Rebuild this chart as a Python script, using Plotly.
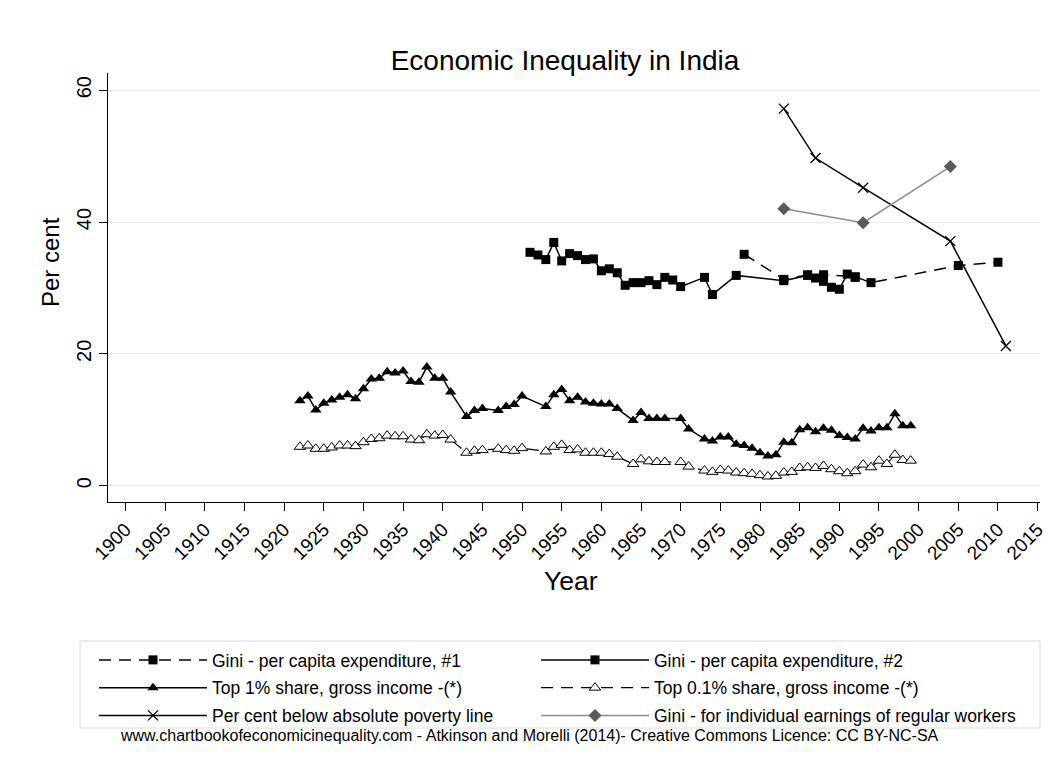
import plotly.graph_objects as go

# ---------------- data ----------------
gini1_years = [1978, 1983, 1986, 1988, 1992, 1994, 2005, 2010]
gini1_vals = [35.1, 31.3, 32.0, 32.0, 31.7, 30.8, 33.4, 33.9]

gini2_years = [1951, 1952, 1953, 1954, 1955, 1956, 1957, 1958, 1959, 1960, 1961, 1962,
               1963, 1964, 1965, 1966, 1967, 1968, 1969, 1970, 1973, 1974, 1977,
               1983, 1986, 1987, 1988, 1989, 1990, 1991, 1992]
gini2_vals = [35.4, 35.0, 34.3, 36.9, 34.1, 35.2, 34.9, 34.3, 34.4, 32.6, 32.9, 32.3,
              30.4, 30.8, 30.8, 31.1, 30.5, 31.6, 31.2, 30.2, 31.6, 29.0, 31.9,
              31.1, 31.9, 31.5, 31.0, 30.1, 29.8, 32.1, 31.6]

top1_years = [1922, 1923, 1924, 1925, 1926, 1927, 1928, 1929, 1930, 1931, 1932, 1933,
              1934, 1935, 1936, 1937, 1938, 1939, 1940, 1941, 1943, 1944, 1945,
              1947, 1948, 1949, 1950, 1953, 1954, 1955, 1956, 1957, 1958, 1959,
              1960, 1961, 1962, 1964, 1965, 1966, 1967, 1968, 1970, 1971, 1973,
              1974, 1975, 1976, 1977, 1978, 1979, 1980, 1981, 1982, 1983, 1984,
              1985, 1986, 1987, 1988, 1989, 1990, 1991, 1992, 1993, 1994, 1995,
              1996, 1997, 1998, 1999]
top1_vals = [12.9, 13.6, 11.5, 12.5, 13.0, 13.4, 13.8, 13.2, 14.7, 16.2, 16.3, 17.3,
             17.1, 17.4, 15.8, 15.7, 18.0, 16.3, 16.3, 14.2, 10.5, 11.4, 11.7,
             11.4, 12.0, 12.3, 13.6, 12.0, 13.8, 14.6, 12.9, 13.4, 12.7, 12.5,
             12.4, 12.4, 11.7, 9.9, 11.1, 10.2, 10.2, 10.2, 10.2, 8.6, 7.1,
             6.8, 7.4, 7.4, 6.3, 6.1, 5.7, 5.0, 4.5, 4.7, 6.6, 6.5,
             8.5, 8.8, 8.2, 8.7, 8.4, 7.6, 7.3, 7.1, 8.7, 8.3, 8.8,
             8.8, 10.9, 9.1, 9.1]

top01_years = top1_years
top01_vals = [5.9, 6.1, 5.6, 5.6, 5.8, 6.1, 6.1, 6.0, 6.6, 7.1, 7.2, 7.6,
              7.5, 7.5, 7.0, 6.9, 7.8, 7.6, 7.7, 7.0, 5.0, 5.3, 5.4,
              5.6, 5.4, 5.3, 5.7, 5.2, 5.9, 6.2, 5.4, 5.5, 5.0, 5.0,
              5.0, 4.8, 4.4, 3.3, 4.0, 3.7, 3.6, 3.6, 3.6, 2.9, 2.3,
              2.1, 2.4, 2.3, 2.0, 1.9, 1.8, 1.6, 1.4, 1.5, 2.0, 2.1,
              2.7, 2.8, 2.7, 3.0, 2.5, 2.2, 1.9, 2.2, 3.2, 2.8, 3.8,
              3.3, 4.7, 3.9, 3.8]

pov_years = [1983, 1987, 1993, 2004, 2011]
pov_vals = [57.2, 49.7, 45.2, 37.1, 21.2]

ginireg_years = [1983, 1993, 2004]
ginireg_vals = [42.0, 39.9, 48.4]

x_ticks = list(range(1900, 2016, 5))
y_ticks = [0, 20, 40, 60]

title_text = "Economic Inequality in India"
x_title = "Year"
y_title = "Per cent"
footer = ("www.chartbookofeconomicinequality.com - Atkinson and Morelli (2014)- "
          "Creative Commons Licence: CC BY-NC-SA")

# ---------------- layout geometry ----------------
W, H = 1059, 769
L, R, T, B = 108, 19, 73, 267
FONT = "Liberation Sans, Arial, sans-serif"

def px_to_paper(px, py):
    pw = W - L - R
    ph = H - T - B
    return (px - L) / pw, (H - B - py) / ph

fig = go.Figure()

fig.add_trace(go.Scatter(
    x=gini1_years, y=gini1_vals, mode="lines+markers",
    name="Gini - per capita expenditure, #1", legend="legend", legendgroup="g1",
    line=dict(color="black", width=1.5, dash="12px,8px"),
    marker=dict(symbol="square", size=9, color="black"),
))
fig.add_trace(go.Scatter(
    x=gini2_years, y=gini2_vals, mode="lines+markers",
    name="Gini - per capita expenditure, #2", legend="legend2", legendgroup="g2",
    line=dict(color="black", width=1.5),
    marker=dict(symbol="square", size=9, color="black"),
))
fig.add_trace(go.Scatter(
    x=top1_years, y=top1_vals, mode="lines+markers",
    name="Top 1% share, gross income -(*)", legend="legend", legendgroup="t1",
    line=dict(color="black", width=1.5),
    marker=dict(symbol="triangle-up", size=10, color="black"),
))
fig.add_trace(go.Scatter(
    x=top01_years, y=top01_vals, mode="lines+markers",
    name="Top 0.1% share, gross income -(*)", legend="legend2", legendgroup="t01",
    line=dict(color="black", width=1.2, dash="12px,8px"),
    marker=dict(symbol="triangle-up", size=10, color="white",
                line=dict(color="black", width=1)),
))
fig.add_trace(go.Scatter(
    x=pov_years, y=pov_vals, mode="lines+markers",
    name="Per cent below absolute poverty line", legend="legend", legendgroup="pv",
    line=dict(color="black", width=1.5),
    marker=dict(symbol="x-thin", size=10, color="black",
                line=dict(color="black", width=1.3)),
))
fig.add_trace(go.Scatter(
    x=ginireg_years, y=ginireg_vals, mode="lines+markers",
    name="Gini - for individual earnings of regular workers", legend="legend2",
    legendgroup="gr",
    line=dict(color="#8c8c8c", width=1.5),
    marker=dict(symbol="diamond", size=10, color="#5a5a5a"),
))

fx, fy = px_to_paper(529, 735)
tx, ty = px_to_paper(50, 262)
xx, xy = px_to_paper(571, 581)
bx0, by0 = px_to_paper(80, 641)
bx1, by1 = px_to_paper(1040, 728)

legend_common = dict(
    orientation="v", xref="container", yref="container",
    xanchor="left", y=1 - 642 / H, yanchor="top",
    itemwidth=108, tracegroupgap=2,
    font=dict(size=17.5, family=FONT), borderwidth=0,
    bgcolor="rgba(0,0,0,0)", traceorder="grouped",
)

fig.update_layout(
    width=W, height=H,
    margin=dict(l=L, r=R, t=T, b=B, autoexpand=False),
    paper_bgcolor="white", plot_bgcolor="white",
    font=dict(family=FONT, color="black"),
    title=dict(text=title_text, x=565 / W, xanchor="center",
               y=1 - 60 / H, yanchor="middle", yref="container",
               font=dict(size=28, family=FONT, color="black")),
    showlegend=True,
    legend=dict(x=94 / W, **legend_common),
    legend2=dict(x=536 / W, **legend_common),
    xaxis=dict(
        range=[1897.8, 2015.3], tickmode="array", tickvals=x_ticks,
        ticktext=[str(v) for v in x_ticks], tickangle=-45,
        ticks="outside", ticklen=8, tickwidth=1.2, tickcolor="black",
        showline=True, linecolor="black", linewidth=1.2,
        showgrid=False, zeroline=False, automargin=False,
        tickfont=dict(size=19, family=FONT),
    ),
    yaxis=dict(
        range=[-2.47, 62.6], tickmode="array", tickvals=y_ticks,
        ticktext=[str(v) for v in y_ticks], tickangle=-90,
        ticks="outside", ticklen=8, tickwidth=1.2, tickcolor="black",
        showline=True, linecolor="black", linewidth=1.2,
        showgrid=True, gridcolor="#ebebeb", gridwidth=1, zeroline=False,
        automargin=False,
        tickfont=dict(size=20, family=FONT),
    ),
    shapes=[
        dict(type="rect", xref="paper", yref="paper",
             x0=bx0, x1=bx1, y0=by0, y1=by1,
             line=dict(color="#dcdcdc", width=1), fillcolor="rgba(0,0,0,0)",
             layer="below"),
    ],
    annotations=[
        dict(text=x_title, x=xx, y=xy, xref="paper", yref="paper",
             showarrow=False, font=dict(size=26.5, family=FONT),
             xanchor="center", yanchor="middle"),
        dict(text=y_title, x=tx, y=ty, xref="paper", yref="paper",
             showarrow=False, textangle=-90, font=dict(size=24, family=FONT),
             xanchor="center", yanchor="middle"),
        dict(text=footer, x=fx, y=fy, xref="paper", yref="paper",
             showarrow=False, font=dict(size=16, family=FONT),
             xanchor="center", yanchor="middle"),
    ],
)

fig.write_html("out.html", config={"displayModeBar": False},
               post_script="document.body.style.margin='0px';")
